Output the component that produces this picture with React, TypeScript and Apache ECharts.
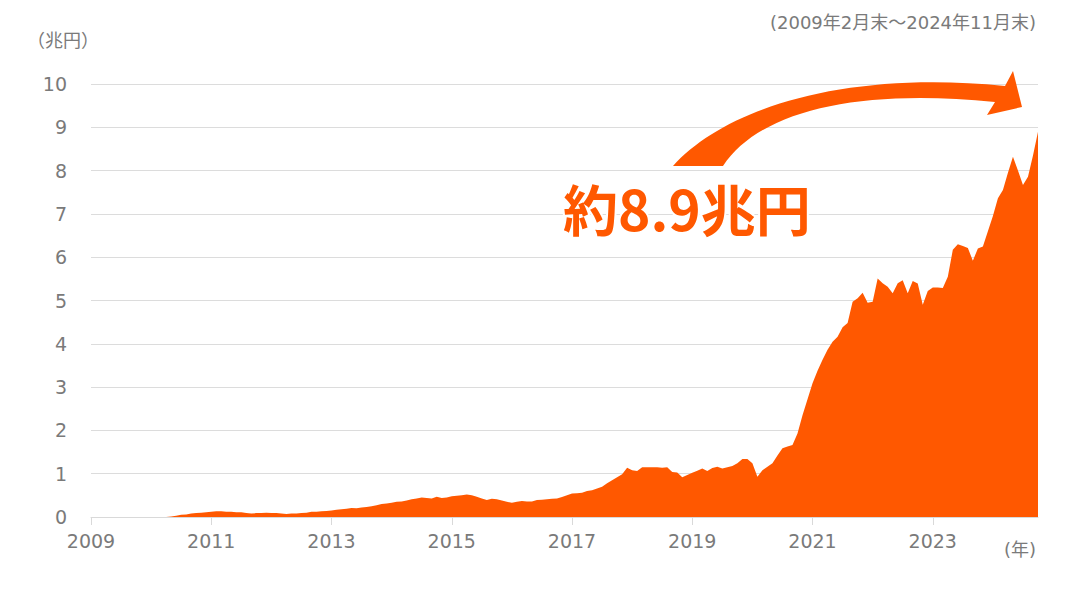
import * as echarts from "echarts";
import { useEffect, useRef } from "react";

// 月末残高（兆円）、2009年2月末〜2024年11月末
const values2009 = [0, 0, 0, 0, 0, 0, 0, 0, 0, 0, 0];
const values2010 = [0, 0, 0, 0, 0, 0.01, 0.03, 0.05, 0.06, 0.08, 0.09, 0.1];
const values2011 = [0.11, 0.12, 0.13, 0.13, 0.12, 0.12, 0.11, 0.11, 0.09, 0.08, 0.09, 0.09];
const values2012 = [0.1, 0.09, 0.09, 0.08, 0.07, 0.08, 0.08, 0.09, 0.1, 0.12, 0.12, 0.13];
const values2013 = [0.14, 0.15, 0.17, 0.18, 0.19, 0.21, 0.2, 0.22, 0.23, 0.25, 0.27, 0.3];
const values2014 = [0.31, 0.33, 0.35, 0.36, 0.38, 0.41, 0.43, 0.45, 0.44, 0.43, 0.47, 0.44];
const values2015 = [0.45, 0.48, 0.49, 0.5, 0.52, 0.5, 0.47, 0.43, 0.39, 0.42, 0.41, 0.38];
const values2016 = [0.35, 0.33, 0.35, 0.37, 0.36, 0.36, 0.39, 0.4, 0.41, 0.42, 0.43, 0.46];
const values2017 = [0.5, 0.54, 0.55, 0.56, 0.6, 0.62, 0.66, 0.7, 0.78, 0.85, 0.92, 0.99];
const values2018 = [1.14, 1.08, 1.06, 1.15, 1.15, 1.15, 1.15, 1.14, 1.15, 1.04, 1.03, 0.92];
const values2019 = [0.97, 1.02, 1.07, 1.12, 1.06, 1.13, 1.16, 1.12, 1.15, 1.18, 1.24, 1.34];
const values2020 = [1.34, 1.24, 0.93, 1.08, 1.16, 1.24, 1.42, 1.59, 1.63, 1.66, 1.93, 2.35];
const values2021 = [2.72, 3.09, 3.38, 3.63, 3.86, 4.05, 4.16, 4.38, 4.48, 4.97, 5.05, 5.18];
const values2022 = [4.95, 4.97, 5.51, 5.4, 5.32, 5.17, 5.4, 5.47, 5.17, 5.45, 5.39, 4.9];
const values2023 = [5.22, 5.3, 5.3, 5.29, 5.55, 6.17, 6.3, 6.26, 6.21, 5.92, 6.2, 6.25];
const values2024 = [6.6, 6.95, 7.36, 7.55, 7.95, 8.32, 8.0, 7.67, 7.86, 8.35, 8.9];

const balance = [
  ...values2009, ...values2010, ...values2011, ...values2012,
  ...values2013, ...values2014, ...values2015, ...values2016,
  ...values2017, ...values2018, ...values2019, ...values2020,
  ...values2021, ...values2022, ...values2023, ...values2024,
];

// 月のカテゴリ
const months: string[] = [];
for (let y = 2009; y <= 2024; y++) {
  for (let m = 1; m <= 12; m++) {
    if (y === 2009 && m < 2) continue;
    if (y === 2024 && m > 11) break;
    months.push(`${y}-${String(m).padStart(2, "0")}`);
  }
}

const unitLabel = "（兆円）";
const yearLabel = "(年)";
const periodLabel = "(2009年2月末～2024年11月末)";
const calloutLabel = "約8.9兆円";

const ORANGE = "#ff5800";
const GRAY = "#7a7a7a";
const FONT = "'DejaVu Sans', 'Noto Sans CJK JP', sans-serif";

// 曲がった矢印
const arrowPath =
  "M673 166 C725 108 845 70 1005 86 L1013 71 L1022 107 L987 115 L995 102 C860 88 760 110 723 166 Z";
echarts.graphic.registerShape("curveArrow", echarts.graphic.extendPath(arrowPath, {}) as any);

function App() {
  const chartRef = useRef<HTMLDivElement>(null);

  useEffect(() => {
    if (!chartRef.current) return;
    const chart = echarts.init(chartRef.current, null, { renderer: "svg" });

    chart.setOption({
      animation: false,
      grid: { left: 91, right: 41, top: 84, bottom: 80, containLabel: false },
      xAxis: {
        type: "category",
        data: months,
        boundaryGap: false,
        axisLine: { lineStyle: { color: "#d9d9d9", width: 1 } },
        axisTick: {
          show: true,
          interval: (i: number) => i % 24 === 0,
          length: 8,
          lineStyle: { color: "#d9d9d9" },
        },
        axisLabel: {
          interval: (i: number) => i % 24 === 0,
          formatter: (v: string) => v.slice(0, 4),
          color: GRAY,
          fontSize: 19,
          fontFamily: FONT,
          margin: 14,
        },
      },
      yAxis: {
        type: "value",
        min: 0,
        max: 10,
        interval: 1,
        axisLine: { show: false },
        axisTick: { show: false },
        axisLabel: { color: GRAY, fontSize: 19, fontFamily: FONT, margin: 24 },
        splitLine: { lineStyle: { color: "#dcdcdc", width: 1 } },
      },
      series: [
        {
          type: "line",
          data: balance,
          symbol: "none",
          lineStyle: { width: 0 },
          areaStyle: { color: ORANGE, opacity: 1 },
        },
      ],
      graphic: [
        {
          type: "text",
          x: 27,
          y: 40,
          style: {
            text: unitLabel,
            fill: GRAY,
            fontSize: 18,
            fontFamily: FONT,
            textVerticalAlign: "middle",
          },
        },
        {
          type: "text",
          x: 1036,
          y: 22,
          style: {
            text: periodLabel,
            fill: GRAY,
            fontSize: 18,
            fontFamily: FONT,
            textAlign: "right",
            textVerticalAlign: "middle",
          },
        },
        {
          type: "text",
          x: 1036,
          y: 549,
          style: {
            text: yearLabel,
            fill: GRAY,
            fontSize: 18,
            fontFamily: FONT,
            textAlign: "right",
            textVerticalAlign: "middle",
          },
        },
        {
          type: "curveArrow",
          x: 0,
          y: 0,
          scaleX: 1,
          scaleY: 1,
          z: 10,
          style: { fill: ORANGE },
        },
        {
          type: "text",
          x: 563,
          y: 207,
          z: 10,
          style: {
            text: calloutLabel,
            fill: ORANGE,
            fontSize: 55,
            fontWeight: "bold",
            fontFamily: "'Noto Sans CJK JP', sans-serif",
            textVerticalAlign: "middle",
            stroke: "#ffffff",
            lineWidth: 4,
          },
        },
      ],
    });

    return () => chart.dispose();
  }, []);

  return (
    <div
      ref={chartRef}
      style={{ position: "fixed", left: 0, top: 0, width: 1079, height: 597, background: "#fff" }}
    />
  );
}

export default App;
